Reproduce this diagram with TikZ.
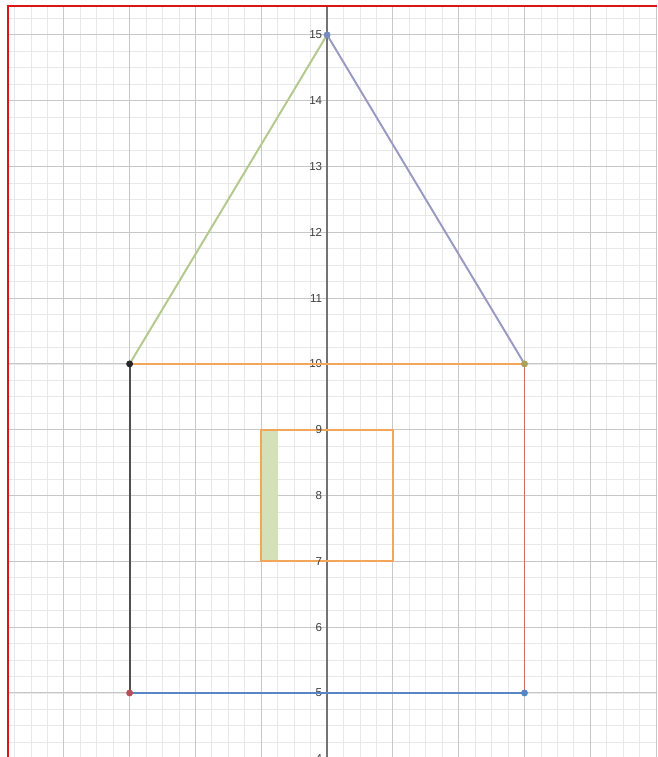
\documentclass[tikz,border=0pt]{standalone}
\usepackage{fontspec}
\setmainfont{Liberation Sans}
\begin{document}
\begin{tikzpicture}[x=1cm,y=1cm,
  minorgrid/.style={draw=black!9,line width=0.35pt},
  majorgrid/.style={draw=black!22,line width=0.45pt},
  seg/.style={line width=0.85pt,line cap=round},
  pt/.style={circle,inner sep=0pt,minimum size=3pt},
  ylab/.style={anchor=east,inner sep=0.5pt,font=\fontsize{5}{6}\selectfont,text=black!75}]
\useasboundingbox (-4.97,4.027) rectangle (5.015,15.53);
\fill[white] (-4.97,4.027) rectangle (5.015,15.53);
\begin{scope}
\clip (-4.848,4.027) rectangle (5.015,15.44);
\foreach \i in {-20,...,21} {\draw[minorgrid] (\i/4,4) -- (\i/4,15.6);}
\foreach \j in {16,...,63} {\draw[minorgrid] (-5,\j/4) -- (5.1,\j/4);}
\foreach \i in {-5,...,5} {\draw[majorgrid] (\i,4) -- (\i,15.6);}
\foreach \j in {4,...,15} {\draw[majorgrid] (-5,\j) -- (5.1,\j);}
\draw[draw=black!55,line width=0.6pt] (0,4) -- (0,15.6);
% window
\fill[fill={rgb,255:red,211;green,224;blue,184}] (-1,7) rectangle (-0.75,9);
\coordinate (w1) at (-1,7); \coordinate (w2) at (1,7);
\coordinate (w3) at (1,9); \coordinate (w4) at (-1,9);
\draw[seg,draw={rgb,255:red,242;green,166;blue,90}] (w1) -- (w2) -- (w3) -- (w4) -- cycle;
% labels
\foreach \j in {4,...,15} {\node[ylab] (l\j) at (-0.05,\j) {\j};}
% house
\coordinate (A) at (-3,5); \coordinate (B) at (3,5);
\coordinate (C) at (3,10); \coordinate (D) at (-3,10);
\coordinate (E) at (0,15);
\draw[seg,draw={rgb,255:red,180;green,201;blue,140}] (D) -- (E);
\draw[seg,draw={rgb,255:red,153;green,153;blue,196}] (E) -- (C);
\draw[seg,draw={rgb,255:red,242;green,166;blue,90}] (D) -- (C);
\draw[seg,draw={rgb,255:red,80;green,80;blue,80}] (D) -- (A);
\draw[seg,draw={rgb,255:red,212;green,106;blue,106}] (C) -- (B);
\draw[seg,draw={rgb,255:red,90;green,133;blue,197}] (A) -- (B);
\node[pt,fill={rgb,255:red,120;green,140;blue,190}] (pE) at (E) {};
\node[pt,fill={rgb,255:red,170;green,160;blue,90}] (pC) at (C) {};
\node[pt,fill={rgb,255:red,40;green,40;blue,40}] (pD) at (D) {};
\node[pt,fill={rgb,255:red,180;green,80;blue,90}] (pA) at (A) {};
\node[pt,fill={rgb,255:red,90;green,133;blue,197}] (pB) at (B) {};
\end{scope}
\draw[draw={rgb,255:red,220;green,20;blue,20},line width=0.8pt] (-4.848,4.027) -- (-4.848,15.44) -- (5.015,15.44);
\end{tikzpicture}
\end{document}
